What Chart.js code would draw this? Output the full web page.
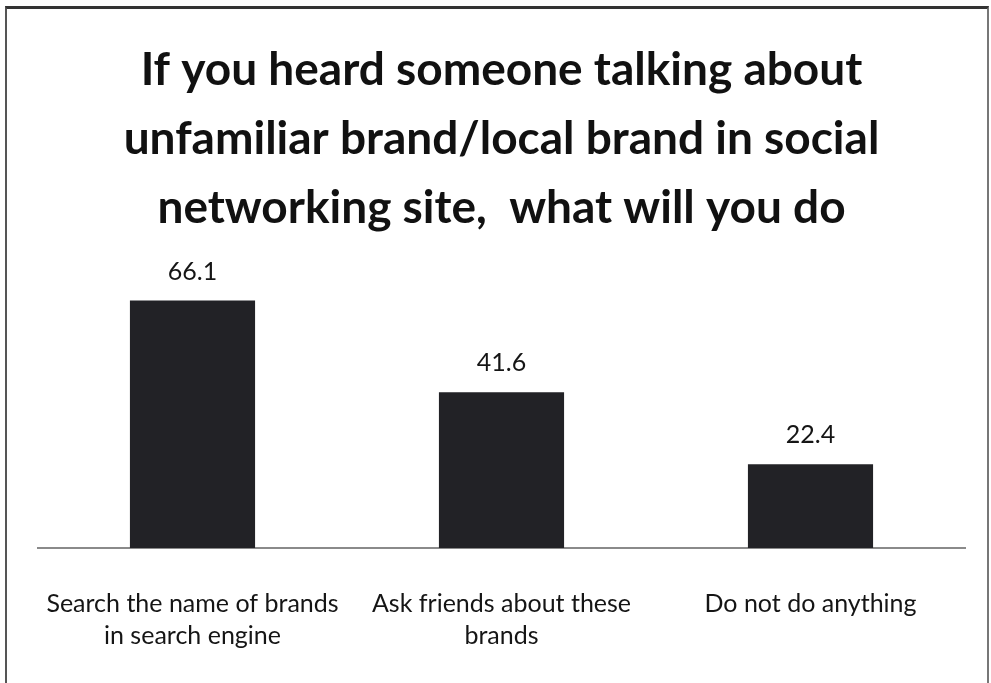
<!DOCTYPE html>
<html>
<head>
<meta charset="utf-8">
<script src="https://cdn.jsdelivr.net/npm/chart.js@4.4.1/dist/chart.umd.min.js"></script>
<style>
  html, body { margin: 0; padding: 0; background: #fff; }
  #wrap { position: relative; width: 991px; height: 683px; overflow: hidden; }
  #frame {
    position: absolute; left: 5px; top: 6px; width: 980px; height: 700px;
    border-left: 2px solid #555; border-right: 2px solid #777; border-top: 3px solid #333;
    pointer-events: none;
  }
  canvas { position: absolute; left: 0; top: 0; }
</style>
</head>
<body>
<div id="wrap">
  <canvas id="actionChart" width="991" height="683"></canvas>
  <div id="frame"></div>
</div>
<script>
const categories = [
    ['Search the name of brands', 'in search engine'],
    ['Ask friends about these', 'brands'],
    ['Do not do anything']
];
const percentages = [66.1, 41.6, 22.4];
const titleLines = [
    'If you heard someone talking about',
    'unfamiliar brand/local brand in social',
    'networking site,  what will you do'
];

// writes each bar's value just above it
const valueLabels = {
    id: 'valueLabels',
    afterDatasetsDraw(chart) {
        const ctx = chart.ctx;
        const meta = chart.getDatasetMeta(0);
        ctx.save();
        ctx.font = '25px Lato, "Liberation Sans", sans-serif';
        ctx.fillStyle = '#151515';
        ctx.textAlign = 'center';
        ctx.textBaseline = 'alphabetic';
        meta.data.forEach((bar, i) => {
            ctx.fillText(percentages[i].toFixed(1), bar.x, bar.y - 21);
        });
        ctx.restore();
    }
};

new Chart(document.getElementById('actionChart'), {
    type: 'bar',
    data: {
        labels: categories,
        datasets: [{
            data: percentages,
            backgroundColor: '#222226',
            borderWidth: 0,
            categoryPercentage: 1,
            barPercentage: 0.405
        }]
    },
    options: {
        responsive: false,
        animation: false,
        layout: { padding: { top: 0, left: 38, right: 26, bottom: 0 } },
        plugins: {
            legend: { display: false },
            tooltip: { enabled: false },
            title: {
                display: true,
                text: titleLines,
                color: '#111',
                font: { family: 'Lato, "Open Sans", sans-serif', size: 46, weight: 'bold', lineHeight: 1.5 },
                padding: { top: 36, bottom: 43 }
            }
        },
        scales: {
            x: {
                grid: { display: false, drawTicks: false },
                border: { display: true, color: '#8a8a8a', width: 2 },
                ticks: {
                    color: '#151515',
                    padding: 40,
                    maxRotation: 0,
                    autoSkip: false,
                    font: { family: 'Lato, "Open Sans", sans-serif', size: 25, lineHeight: 1.28 }
                },
                afterFit(scale) {
                    scale.height = 135;
                }
            },
            y: {
                display: false,
                min: 0,
                max: 70
            }
        }
    },
    plugins: [valueLabels]
});
</script>
</body>
</html>
